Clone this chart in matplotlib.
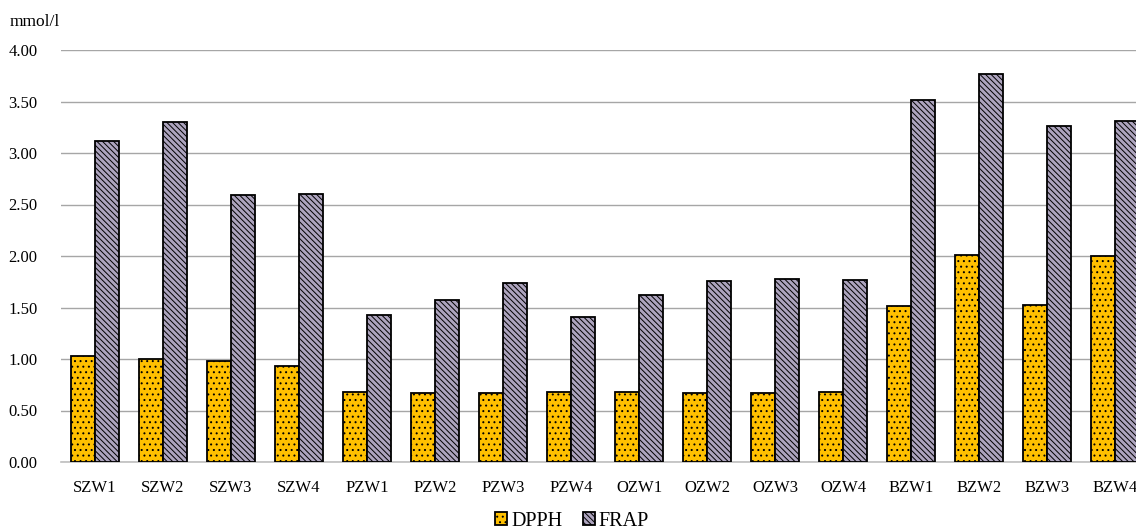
import numpy as np
import matplotlib
matplotlib.use('Agg')
import matplotlib.pyplot as plt

samples = ['SZW1', 'SZW2', 'SZW3', 'SZW4', 'PZW1', 'PZW2', 'PZW3', 'PZW4',
           'OZW1', 'OZW2', 'OZW3', 'OZW4', 'BZW1', 'BZW2', 'BZW3', 'BZW4']
dpph = [1.03, 1.00, 0.98, 0.93, 0.68, 0.67, 0.67, 0.68,
        0.68, 0.67, 0.67, 0.68, 1.51, 2.01, 1.52, 2.00]
frap = [3.12, 3.30, 2.59, 2.60, 1.43, 1.57, 1.74, 1.41,
        1.62, 1.76, 1.78, 1.77, 3.51, 3.77, 3.26, 3.31]
y_ticks = [0.0, 0.5, 1.0, 1.5, 2.0, 2.5, 3.0, 3.5, 4.0]

plt.rcParams['font.family'] = ['Liberation Serif', 'DejaVu Serif']
plt.rcParams['hatch.linewidth'] = 0.7

fig = plt.figure(figsize=(11.36, 5.29), dpi=100)
# axes run past the right edge like the original (BZW4 is clipped)
ax = fig.add_axes([61 / 1136, 67 / 529, 1088 / 1136, 412 / 529])

x = np.arange(len(samples))
w = 0.36
b1 = ax.bar(x - w / 2, dpph, w, color='#FFC000', edgecolor='black',
            linewidth=1.3, hatch='...', label='DPPH', zorder=3)
b2 = ax.bar(x + w / 2, frap, w, color='#ADA4BE', edgecolor='black',
            linewidth=1.3, hatch='\\\\\\\\\\\\', label='FRAP', zorder=3)

ax.set_xlim(-0.5, len(samples) - 0.5)
ax.set_ylim(0, 4.0)
ax.set_yticks(y_ticks)
ax.set_yticklabels([f'{v:.2f}' for v in y_ticks], fontsize=12)
ax.set_xticks(x)
ax.set_xticklabels(samples, fontsize=12)
ax.tick_params(axis='y', length=0, pad=17)
ax.tick_params(axis='x', length=0, pad=13)

ax.grid(True, axis='y', color='#A6A6A6', linewidth=1.0, zorder=0)
for s in ['left', 'right', 'top']:
    ax.spines[s].set_visible(False)
ax.spines['bottom'].set_color('#BFBFBF')
ax.spines['bottom'].set_linewidth(1.2)

fig.text(10 / 1136, 1 - 22 / 529, 'mmol/l', fontsize=12.5, va='center', ha='left')

fig.legend(handles=[b1, b2], loc='center', bbox_to_anchor=(572 / 1136, 1 - 521 / 529),
           ncol=2, frameon=False, fontsize=14.5, handlelength=0.6, handleheight=0.6,
           handletextpad=0.2, columnspacing=1.0)

fig.savefig('out.png', dpi=100)
